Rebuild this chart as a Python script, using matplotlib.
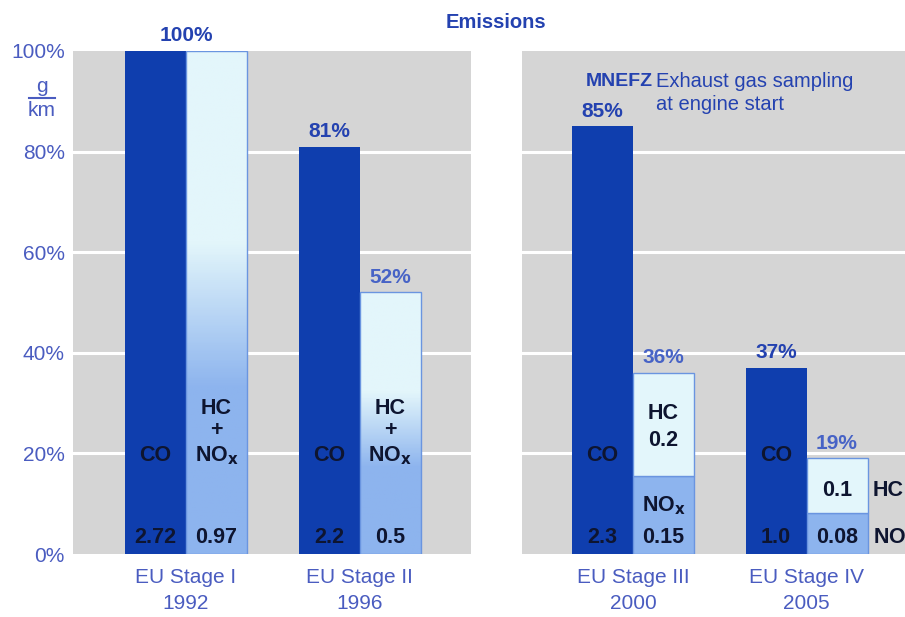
import numpy as np
import matplotlib
matplotlib.use("Agg")
from matplotlib import pyplot as plt
from matplotlib.colors import LinearSegmentedColormap

plt.rcParams["font.family"] = ["Liberation Sans", "DejaVu Sans"]

# emission limits, percent of EU Stage I
stages = ["EU Stage I\n1992", "EU Stage II\n1996", "EU Stage III\n2000", "EU Stage IV\n2005"]
co_pct = [100, 81, 85, 37]
hc_nox_pct = [100, 52, 36, 19]
nox_pct = [15.5, 8.2]          # NOx part of the stacked bars (Stage III, IV)
co_gkm = ["2.72", "2.2", "2.3", "1.0"]
hc_nox_gkm = ["0.97", "0.5"]
hc_gkm = ["0.2", "0.1"]
nox_gkm = ["0.15", "0.08"]
yticks = [0, 20, 40, 60, 80, 100]

W, H = 905, 617
DARK = "#0f3eae"
LIGHT = "#e3f6fb"
MID = "#8db4ee"
EDGE = "#6a95e0"
GRAY = "#d5d5d5"
TICK_C = "#4a5cc0"
LBL_C = "#2442b0"
LBL_C2 = "#4763c6"
INK = "#0e1530"

def fx(px):
    return px / W

def fy(py):
    return 1 - py / H

fig = plt.figure(figsize=(W / 100, H / 100), dpi=100)
ax_l = fig.add_axes([fx(73), fy(554), (471 - 73) / W, (554 - 51) / H])
ax_r = fig.add_axes([fx(522), fy(554), (905 - 522) / W, (554 - 51) / H])

step = 173.5
bw = 61 / step
ax_l.set_xlim(-113 / step, (398 - 113) / step)
ax_r.set_xlim(-111 / step, (383 - 111) / step)

for ax in (ax_l, ax_r):
    ax.set_facecolor(GRAY)
    ax.set_ylim(0, 100)
    for s in ax.spines.values():
        s.set_visible(False)
    for y in yticks[1:-1]:
        ax.axhline(y, color="white", lw=2.2, zorder=1)
    ax.tick_params(axis="x", length=0, pad=10, labelsize=15, labelcolor=TICK_C)

ax_l.set_yticks(yticks)
ax_l.set_yticklabels([f"{v}%" for v in yticks])
ax_l.tick_params(axis="y", length=0, pad=6, labelsize=15, labelcolor=TICK_C)
ax_r.set_yticks([])

ax_l.set_xticks([0, 1])
ax_l.set_xticklabels(stages[:2], linespacing=1.45)
ax_r.set_xticks([0, 1])
ax_r.set_xticklabels(stages[2:], linespacing=1.45)

grad = LinearSegmentedColormap.from_list("hcnox", [(0, MID), (0.33, MID), (0.62, LIGHT), (1, LIGHT)])
lbl = dict(ha="center", va="center", fontsize=15.5, fontweight="bold", color=INK, zorder=5)
pct = dict(textcoords="offset points", xytext=(0, 4), ha="center", va="bottom",
           fontsize=15, fontweight="bold")

# left panel: CO and combined HC+NOx
for i in range(2):
    co = ax_l.bar(i - bw / 2, co_pct[i], bw, color=DARK, zorder=2)[0]
    hn = ax_l.bar(i + bw / 2, hc_nox_pct[i], bw, facecolor="none", edgecolor=EDGE, lw=1, zorder=4)[0]
    x0, h = hn.get_x(), hn.get_height()
    img = ax_l.imshow(np.linspace(1, 0, 200).reshape(-1, 1), cmap=grad, aspect="auto",
                      extent=[x0, x0 + hn.get_width(), 0, h], zorder=3)
    img.set_clip_path(hn)
    ax_l.text(i - bw / 2, 19.5, "CO", **lbl)
    ax_l.text(i - bw / 2, 3.2, co_gkm[i], **lbl)
    ax_l.text(i + bw / 2, 29.0, "HC", **lbl)
    ax_l.text(i + bw / 2, 24.6, "+", **lbl)
    ax_l.text(i + bw / 2, 19.5, "NO$_\\mathbf{x}$", **lbl)
    ax_l.text(i + bw / 2, 3.2, hc_nox_gkm[i], **lbl)

ax_l.annotate(f"{co_pct[0]}%", (0, co_pct[0]), color=LBL_C, annotation_clip=False, **pct)
ax_l.annotate(f"{co_pct[1]}%", (1 - bw / 2, co_pct[1]), color=LBL_C, **pct)
ax_l.annotate(f"{hc_nox_pct[1]}%", (1 + bw / 2, hc_nox_pct[1]), color=LBL_C2, **pct)

# right panel: CO and stacked NOx / HC
for i in range(2):
    ax_r.bar(i - bw / 2, co_pct[i + 2], bw, color=DARK, zorder=2)
    ax_r.bar(i + bw / 2, nox_pct[i], bw, color=MID, edgecolor=EDGE, lw=1, zorder=3)
    ax_r.bar(i + bw / 2, hc_nox_pct[i + 2] - nox_pct[i], bw, bottom=nox_pct[i],
             color=LIGHT, edgecolor=EDGE, lw=1, zorder=3)
    ax_r.text(i - bw / 2, 19.5, "CO", **lbl)
    ax_r.text(i - bw / 2, 3.2, co_gkm[i + 2], **lbl)
    ax_r.text(i + bw / 2, 3.2, nox_gkm[i], **lbl)
    ax_r.annotate(f"{co_pct[i + 2]}%", (i - bw / 2, co_pct[i + 2]), color=LBL_C, **pct)
    ax_r.annotate(f"{hc_nox_pct[i + 2]}%", (i + bw / 2, hc_nox_pct[i + 2]), color=LBL_C2, **pct)

ax_r.text(bw / 2, 27.9, "HC", **lbl)
ax_r.text(bw / 2, 22.5, hc_gkm[0], **lbl)
ax_r.text(bw / 2, 9.6, "NO$_\\mathbf{x}$", **lbl)
ax_r.text(1 + bw / 2, 12.7, hc_gkm[1], **lbl)
ax_r.text(1 + bw + 0.03, 12.7, "HC", **{**lbl, "ha": "left"})
ax_r.text(1 + bw + 0.03, 3.2, "NO$_\\mathbf{x}$", **{**lbl, "ha": "left"})

# header texts
fig.text(fx(496), fy(22), "Emissions", ha="center", va="center",
         fontsize=14.5, fontweight="bold", color=LBL_C)
fig.text(fx(586), fy(82), "MNEFZ", ha="left", va="center",
         fontsize=14, fontweight="bold", color=LBL_C)
fig.text(fx(656), fy(72), "Exhaust gas sampling\nat engine start", ha="left", va="top",
         fontsize=14.5, color=LBL_C, linespacing=1.3)

# unit g/km
fig.text(fx(42), fy(86), "g", ha="center", va="center", fontsize=15, color=TICK_C)
fig.add_artist(plt.Line2D([fx(29), fx(55)], [fy(98), fy(98)], color=TICK_C, lw=1.5))
fig.text(fx(42), fy(111), "km", ha="center", va="center", fontsize=15, color=TICK_C)

fig.savefig("out.png", dpi=100)
